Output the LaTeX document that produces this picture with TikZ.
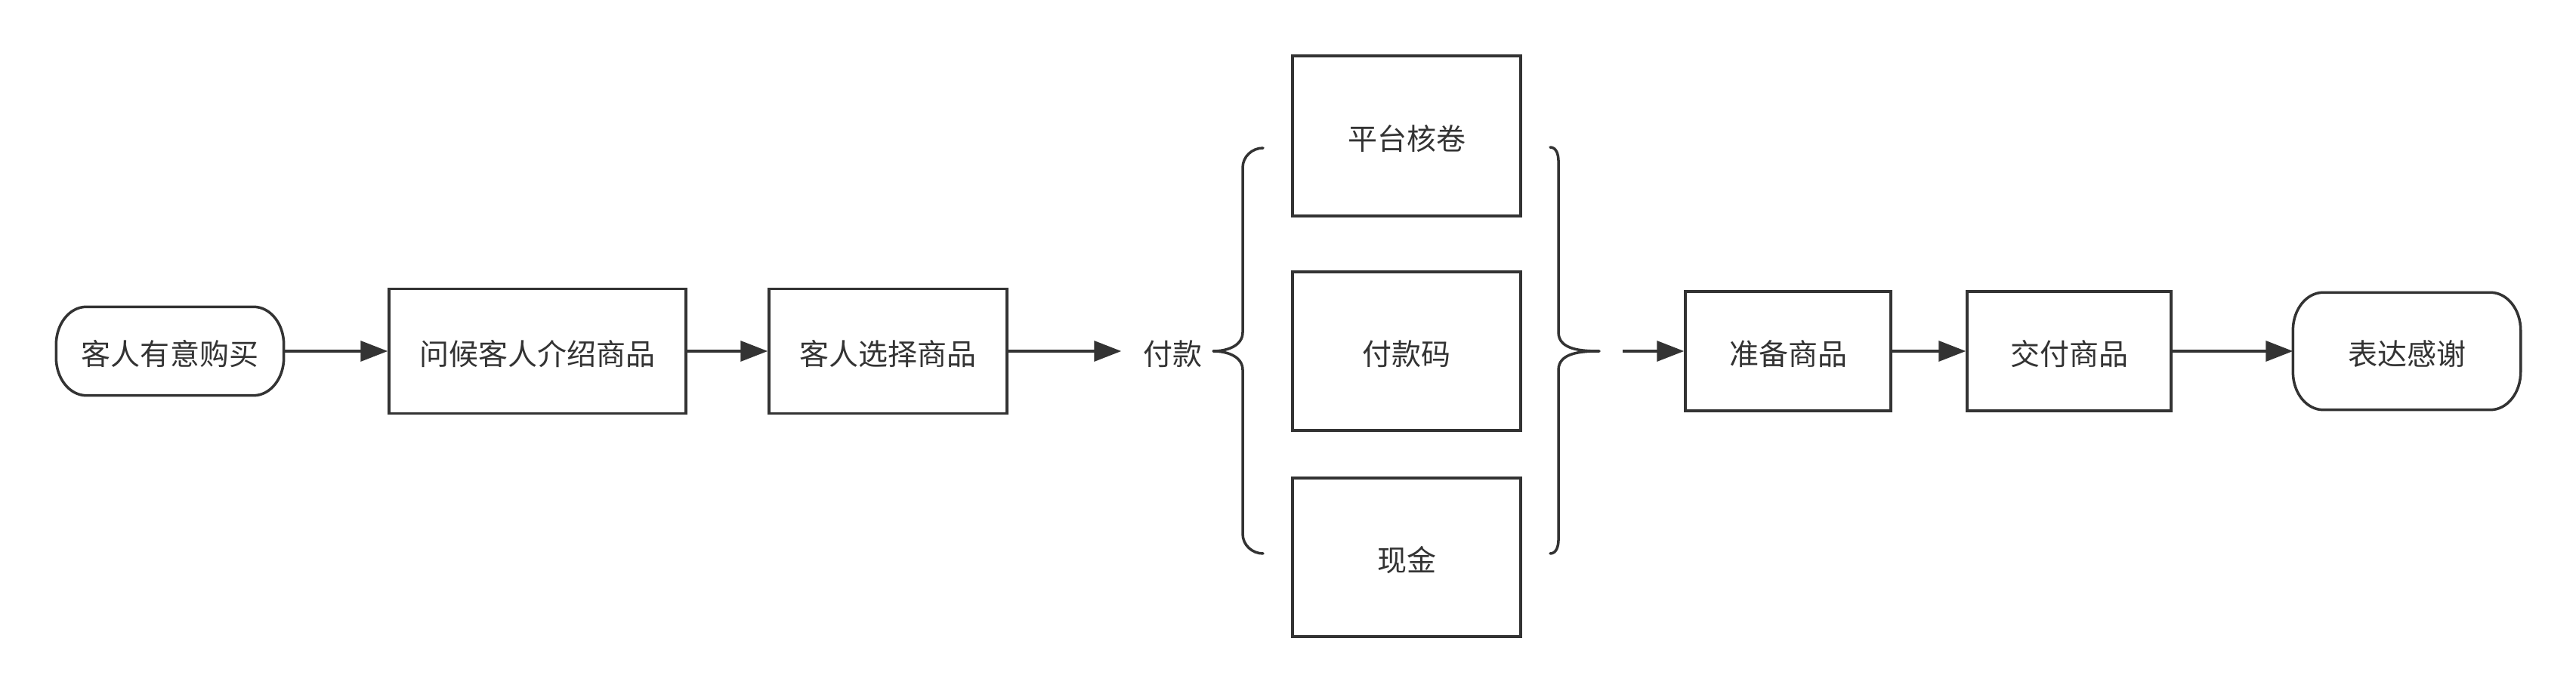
\documentclass[tikz,border=0pt]{standalone}
\usepackage{fontspec}
\setmainfont{Noto Sans CJK SC}
\usetikzlibrary{arrows.meta,calc}
\definecolor{ink}{HTML}{333333}
\tikzset{
  line/.style={draw=ink, line width=1pt, line join=round},
  txt/.style={text=ink, font=\fontsize{11.1pt}{13pt}\selectfont, text height=0.40cm, text depth=0.024cm},
  box/.style={txt, draw=ink, line width=1pt, inner sep=0pt},
  term/.style={txt, inner sep=0pt},
  arr/.style={draw=ink, line width=1pt, -{Triangle[length=0.36cm,width=0.27cm]}},
}
\newcommand{\termpath}[1]{%
  \draw[line] ($(#1.north west)+(0.4,0)$) -- ($(#1.north east)+(-0.4,0)$)
    arc[start angle=90,end angle=0,x radius=0.4,y radius=0.5]
    -- ($(#1.south east)+(0,0.5)$)
    arc[start angle=0,end angle=-90,x radius=0.4,y radius=0.5]
    -- ($(#1.south west)+(0.4,0)$)
    arc[start angle=270,end angle=180,x radius=0.4,y radius=0.5]
    -- ($(#1.north west)+(0,-0.5)$)
    arc[start angle=180,end angle=90,x radius=0.4,y radius=0.5] -- cycle;}
\begin{document}
\begin{tikzpicture}
\useasboundingbox (0,0) rectangle (34.10,9.18);
% nodes
\node[term, minimum width=3.00cm, minimum height=1.16cm] (n1) at (2.25,4.53) {客人有意购买};
\termpath{n1}
\node[box, minimum width=3.93cm, minimum height=1.65cm] (n2) at (7.115,4.53) {问候客人介绍商品};
\node[box, minimum width=3.15cm, minimum height=1.65cm] (n3) at (11.755,4.53) {客人选择商品};
\node[term, inner xsep=0.28cm] (pay) at (15.52,4.53) {付款};
\node[box, minimum width=3.02cm, minimum height=2.12cm] (pa) at (18.62,7.38) {平台核卷};
\node[box, minimum width=3.02cm, minimum height=2.10cm] (pb) at (18.62,4.53) {付款码};
\node[box, minimum width=3.02cm, minimum height=2.10cm] (pc) at (18.62,1.80) {现金};
\node[box, minimum width=2.72cm, minimum height=1.58cm] (n4) at (23.67,4.53) {准备商品};
\node[box, minimum width=2.70cm, minimum height=1.58cm] (n5) at (27.39,4.53) {交付商品};
\node[term, minimum width=3.00cm, minimum height=1.54cm] (n6) at (31.86,4.53) {表达感谢};
\termpath{n6}
% braces
\draw[line, line cap=round] (16.72,7.22) to[out=180,in=90] (16.45,6.96) -- (16.45,4.78)
  to[out=-90,in=0] (16.06,4.53) to[out=0,in=90] (16.45,4.28) -- (16.45,2.11)
  to[out=-90,in=180] (16.72,1.85);
\draw[line, line cap=round] (20.52,7.23) to[out=0,in=90] (20.63,7.05) -- (20.63,4.78)
  to[out=-90,in=180] (21.17,4.53) to[out=180,in=90] (20.63,4.28) -- (20.63,2.03)
  to[out=-90,in=0] (20.52,1.85);
\coordinate (rb) at (21.48,4.53);
% connectors
\draw[arr] (n1.east) -- (n2.west);
\draw[arr] (n2.east) -- (n3.west);
\draw[arr] (n3.east) -- (pay.west);
\draw[arr] (rb) -- (n4.west);
\draw[arr] (n4.east) -- (n5.west);
\draw[arr] (n5.east) -- (n6.west);
\end{tikzpicture}
\end{document}
